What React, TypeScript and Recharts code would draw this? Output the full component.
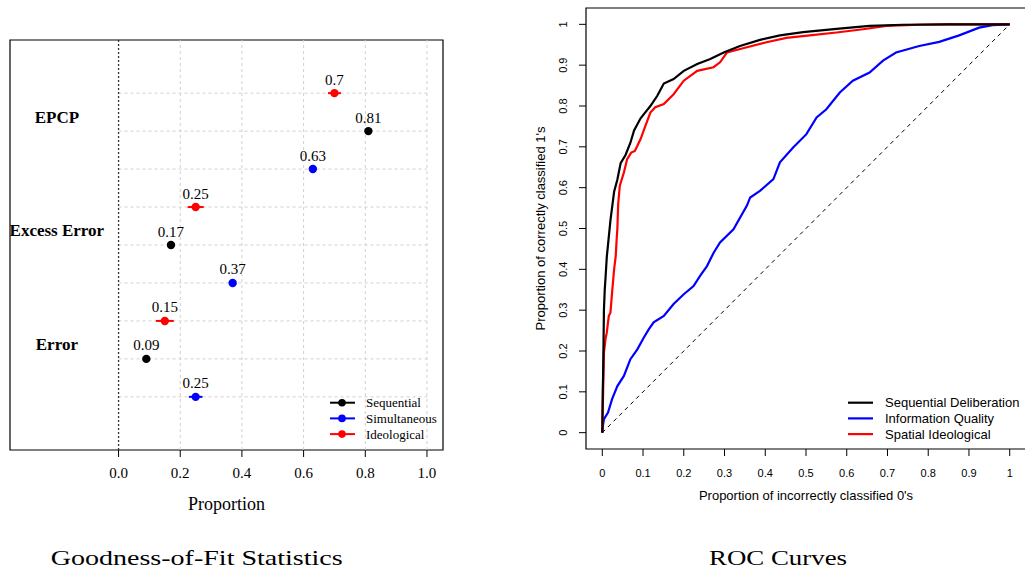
import React from 'react';
import {
  ScatterChart, Scatter, LineChart, Line, XAxis, YAxis, ReferenceLine,
  ReferenceArea, ErrorBar, Legend,
} from 'recharts';

// left panel: goodness-of-fit statistics
const statNames = ['EPCP', 'Excess Error', 'Error'];
const seriesNames = ['Sequential', 'Simultaneous', 'Ideological'];
const sequential = [0.81, 0.17, 0.09];
const simultaneous = [0.63, 0.37, 0.25];
const ideological = [0.7, 0.25, 0.15];
const sequentialErr = [0.005, 0.005, 0.005];
const simultaneousErr = [0.008, 0.008, 0.022];
const ideologicalErr = [0.021, 0.026, 0.029];
const proportionTicks = [0, 0.2, 0.4, 0.6, 0.8, 1];

// right panel: ROC curves
const rocNames = ['Sequential Deliberation', 'Information Quality', 'Spatial Ideological'];
const seqFpr = [0, 0.001, 0.002, 0.003, 0.004, 0.006, 0.008, 0.011, 0.014, 0.02, 0.029, 0.037, 0.045, 0.057, 0.069, 0.078, 0.094, 0.106, 0.118, 0.135, 0.151, 0.175, 0.2, 0.233, 0.265, 0.298, 0.338, 0.387, 0.436, 0.493, 0.575, 0.656, 0.738, 0.85, 1];
const seqTpr = [0, 0.1, 0.14, 0.22, 0.3, 0.35, 0.38, 0.43, 0.46, 0.52, 0.59, 0.62, 0.66, 0.68, 0.71, 0.74, 0.77, 0.785, 0.8, 0.825, 0.855, 0.866, 0.886, 0.903, 0.915, 0.931, 0.947, 0.962, 0.973, 0.981, 0.989, 0.996, 0.999, 1, 1];
const infoFpr = [0, 0.002, 0.004, 0.014, 0.024, 0.037, 0.053, 0.069, 0.086, 0.102, 0.114, 0.126, 0.151, 0.175, 0.2, 0.224, 0.24, 0.257, 0.273, 0.289, 0.322, 0.355, 0.363, 0.387, 0.42, 0.436, 0.469, 0.501, 0.526, 0.55, 0.583, 0.615, 0.656, 0.689, 0.721, 0.778, 0.827, 0.876, 0.925, 0.958, 1];
const infoTpr = [0, 0.02, 0.033, 0.049, 0.082, 0.114, 0.139, 0.18, 0.204, 0.233, 0.253, 0.27, 0.286, 0.315, 0.339, 0.359, 0.384, 0.408, 0.44, 0.466, 0.498, 0.556, 0.576, 0.592, 0.621, 0.662, 0.699, 0.731, 0.772, 0.792, 0.833, 0.862, 0.882, 0.911, 0.931, 0.947, 0.957, 0.973, 0.992, 0.998, 1];
const ideoFpr = [0, 0.002, 0.004, 0.008, 0.011, 0.016, 0.02, 0.024, 0.029, 0.033, 0.035, 0.037, 0.039, 0.043, 0.053, 0.061, 0.071, 0.08, 0.094, 0.106, 0.118, 0.13, 0.151, 0.175, 0.2, 0.233, 0.273, 0.289, 0.306, 0.355, 0.403, 0.452, 0.509, 0.575, 0.64, 0.697, 0.778, 0.85, 1];
const ideoTpr = [0, 0.098, 0.196, 0.23, 0.245, 0.286, 0.294, 0.343, 0.4, 0.433, 0.47, 0.5, 0.56, 0.605, 0.637, 0.67, 0.686, 0.69, 0.719, 0.752, 0.784, 0.797, 0.805, 0.829, 0.862, 0.886, 0.895, 0.907, 0.931, 0.944, 0.956, 0.967, 0.973, 0.98, 0.988, 0.996, 0.999, 1, 1];
const rocTicks = [0, 0.1, 0.2, 0.3, 0.4, 0.5, 0.6, 0.7, 0.8, 0.9, 1];

const colors = ['#000000', '#0000ff', '#ff0000'];
const serif = 'Liberation Serif, Times New Roman, serif';
const sans = 'Liberation Sans, Arial, sans-serif';

// rows: each statistic takes three rows, ideological on top
const toRows = (vals: number[], errs: number[], shift: number) =>
  vals.map((v, i) => ({ x: v, y: 9 - 3 * i - shift, err: errs[i] }));
const ideoRows = toRows(ideological, ideologicalErr, 0);
const seqRows = toRows(sequential, sequentialErr, 1);
const simRows = toRows(simultaneous, simultaneousErr, 2);
const statLabelRows = statNames.map((name, i) => ({ x: -0.2, y: 9 - 3 * i - 0.63, name }));
const gridRows = [1, 2, 3, 4, 5, 6, 7, 8, 9];

const toPoints = (xs: number[], ys: number[]) => xs.map((x, i) => ({ x, y: ys[i] }));
const seqCurve = toPoints(seqFpr, seqTpr);
const infoCurve = toPoints(infoFpr, infoTpr);
const ideoCurve = toPoints(ideoFpr, ideoTpr);

const dotShape = (color: string) => (p: any) => (
  <g>
    <circle cx={p.cx} cy={p.cy} r={4.2} fill={color} />
    <text x={p.cx} y={p.cy - 8.5} textAnchor="middle" fontFamily={serif} fontSize={15} fill="#000">
      {String(p.payload.x)}
    </text>
  </g>
);

const statLabelShape = (p: any) => (
  <text x={p.cx} y={p.cy} textAnchor="middle" dominantBaseline="central"
    fontFamily={serif} fontSize={17} fontWeight="bold" fill="#000">
    {p.payload.name}
  </text>
);

const LeftLegend = () => (
  <svg width={130} height={52}>
    {seriesNames.map((n, i) => (
      <g key={n}>
        <line x1={10} x2={35} y1={10.7 + i * 15.7} y2={10.7 + i * 15.7} stroke={colors[i]} strokeWidth={2} />
        <circle cx={22} cy={10.7 + i * 15.7} r={3.8} fill={colors[i]} />
        <text x={46} y={10.7 + i * 15.7} dominantBaseline="central" fontFamily={serif} fontSize={13} fill="#000">{n}</text>
      </g>
    ))}
  </svg>
);

const rocLegendColors = ['#000000', '#0000ff', '#ff0000'];
const RocLegend = () => (
  <svg width={200} height={52}>
    {rocNames.map((n, i) => (
      <g key={n}>
        <line x1={10} x2={35} y1={10.7 + i * 15.7} y2={10.7 + i * 15.7} stroke={rocLegendColors[i]} strokeWidth={2.2} />
        <text x={47} y={10.7 + i * 15.7} dominantBaseline="central" fontFamily={sans} fontSize={13} fill="#000">{n}</text>
      </g>
    ))}
  </svg>
);

const RocYTick = (p: any) => (
  <text x={p.x} y={p.y} transform={`rotate(-90, ${p.x}, ${p.y})`} textAnchor="middle"
    fontFamily={sans} fontSize={11} fill="#000">
    {String(p.payload.value)}
  </text>
);

const RocYLabel = (p: any) => {
  const vb = p.viewBox || { x: 0, y: 8, width: 66, height: 441 };
  const x = vb.x + 24.5;
  const y = vb.y + vb.height / 2;
  return (
    <text x={x} y={y} transform={`rotate(-90, ${x}, ${y})`} textAnchor="middle"
      fontFamily={sans} fontSize={13} fill="#000">
      Proportion of correctly classified 1's
    </text>
  );
};

export default function App() {
  return (
    <div style={{ position: 'absolute', left: 0, top: 0, width: 1025, height: 572, overflow: 'hidden', background: '#fff' }}>
      <div style={{ position: 'absolute', left: 0, top: 0 }}>
        <ScatterChart width={460} height={520} margin={{ top: 40, right: 17, bottom: 5, left: 10 }}>
          <XAxis type="number" dataKey="x" domain={[-0.352, 1.052]} allowDataOverflow ticks={proportionTicks}
            tickFormatter={(v: number) => v.toFixed(1)} axisLine={false} tickLine={{ stroke: '#000' }}
            tickSize={7} tickMargin={10} height={65} interval={0}
            tick={{ fill: '#000', fontSize: 15, fontFamily: serif }}
            label={{ value: 'Proportion', position: 'insideBottom', offset: 5, fill: '#000', fontSize: 18, fontFamily: serif }} />
          <YAxis type="number" dataKey="y" domain={[-0.4, 10.4]} allowDataOverflow hide />
          {proportionTicks.slice(1).map((t) => (
            <ReferenceLine key={'v' + t} x={t} stroke="#d0d0d0" strokeDasharray="3 3" />
          ))}
          {gridRows.map((r) => (
            <ReferenceLine key={'h' + r} segment={[{ x: 0, y: r }, { x: 1, y: r }]} stroke="#d0d0d0" strokeDasharray="3 3" />
          ))}
          <ReferenceLine x={0} stroke="#333" strokeDasharray="2 2" strokeWidth={1.3} />
          <ReferenceArea x1={-0.352} x2={1.052} y1={-0.4} y2={10.4} fill="none" stroke="#000" strokeWidth={1.2} />
          <Scatter data={statLabelRows} shape={statLabelShape} legendType="none" isAnimationActive={false} />
          <Scatter name={seriesNames[2]} data={ideoRows} fill={colors[2]} shape={dotShape(colors[2])} isAnimationActive={false}>
            <ErrorBar dataKey="err" direction="x" width={0} stroke={colors[2]} strokeWidth={2} />
          </Scatter>
          <Scatter name={seriesNames[0]} data={seqRows} fill={colors[0]} shape={dotShape(colors[0])} isAnimationActive={false}>
            <ErrorBar dataKey="err" direction="x" width={0} stroke={colors[0]} strokeWidth={2} />
          </Scatter>
          <Scatter name={seriesNames[1]} data={simRows} fill={colors[1]} shape={dotShape(colors[1])} isAnimationActive={false}>
            <ErrorBar dataKey="err" direction="x" width={0} stroke={colors[1]} strokeWidth={2} />
          </Scatter>
          <Legend layout="vertical" align="center" verticalAlign="middle" content={() => <LeftLegend />}
            wrapperStyle={{ left: 320, top: 392, width: 130, height: 52 }} />
        </ScatterChart>
      </div>

      <div style={{ position: 'absolute', left: 520, top: 0 }}>
        <LineChart width={510} height={520} margin={{ top: 8, right: 4, bottom: 11, left: 0 }}>
          <XAxis type="number" dataKey="x" domain={[-0.04, 1.04]} allowDataOverflow ticks={rocTicks} interval={0}
            axisLine={false} tickLine={{ stroke: '#000' }} tickSize={7} tickMargin={13} height={60}
            tick={{ fill: '#000', fontSize: 11, fontFamily: sans }}
            label={{ value: "Proportion of incorrectly classified 0's", position: 'insideBottom', offset: 9.5, fill: '#000', fontSize: 13, fontFamily: sans }} />
          <YAxis type="number" dataKey="y" domain={[-0.04, 1.04]} allowDataOverflow ticks={rocTicks} interval={0}
            width={66} axisLine={false} tickLine={{ stroke: '#000' }} tickSize={7} tickMargin={12}
            tick={<RocYTick />} label={{ content: RocYLabel }} />
          <ReferenceArea x1={-0.04} x2={1.04} y1={-0.04} y2={1.04} fill="none" stroke="#000" strokeWidth={1.2} />
          <ReferenceLine segment={[{ x: 0, y: 0 }, { x: 1, y: 1 }]} stroke="#000" strokeDasharray="4 4" />
          <Line data={infoCurve} dataKey="y" name={rocNames[1]} stroke={rocLegendColors[1]} strokeWidth={2.2} dot={false} isAnimationActive={false} />
          <Line data={ideoCurve} dataKey="y" name={rocNames[2]} stroke={rocLegendColors[2]} strokeWidth={2.2} dot={false} isAnimationActive={false} />
          <Line data={seqCurve} dataKey="y" name={rocNames[0]} stroke={rocLegendColors[0]} strokeWidth={2.2} dot={false} isAnimationActive={false} />
          <Legend layout="vertical" align="center" verticalAlign="middle" content={() => <RocLegend />}
            wrapperStyle={{ left: 318, top: 392, width: 200, height: 52 }} />
        </LineChart>
      </div>

      <svg width={1025} height={572} style={{ position: 'absolute', left: 0, top: 0, pointerEvents: 'none' }}>
        <text x={50.7} y={564.5} textLength={292} lengthAdjust="spacingAndGlyphs" fontFamily={serif} fontSize={22} fill="#000">
          Goodness-of-Fit Statistics
        </text>
        <text x={709} y={564.5} textLength={138} lengthAdjust="spacingAndGlyphs" fontFamily={serif} fontSize={22} fill="#000">
          ROC Curves
        </text>
      </svg>
    </div>
  );
}
